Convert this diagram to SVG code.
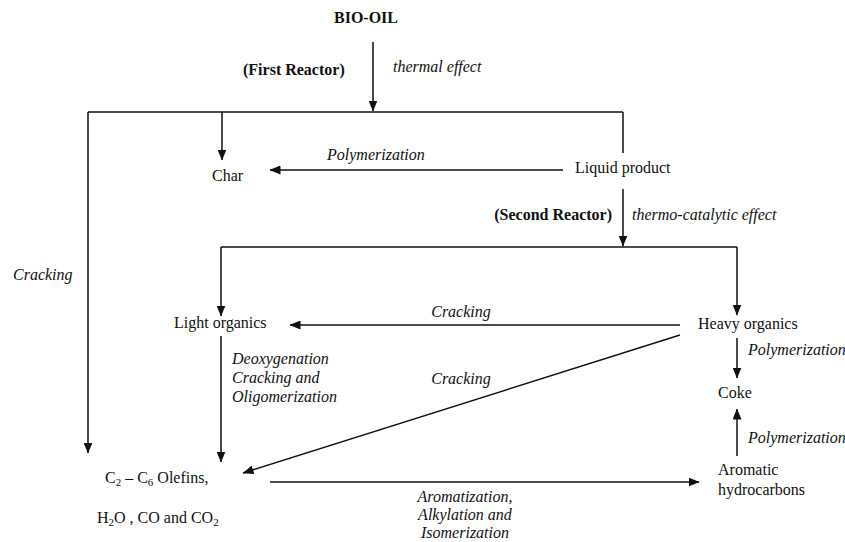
<svg xmlns="http://www.w3.org/2000/svg" width="845" height="542" viewBox="0 0 845 542">
<style>
text{font-family:"Liberation Serif","Times New Roman",serif;font-size:16px;fill:#111}
.b{font-weight:bold}
.i{font-style:italic}
.ln{stroke:#111;stroke-width:1.5;fill:none}
.a{marker-end:url(#ah)}
</style>
<defs>
<marker id="ah" markerWidth="11" markerHeight="9" refX="10.5" refY="4.5" orient="auto" markerUnits="userSpaceOnUse">
<path d="M0,0 L11,4.5 L0,9 Z" fill="#111"/>
</marker>
</defs>
<rect width="845" height="542" fill="#fff"/>
<g id="connectors">
<path class="ln a" d="M373,42 V111"/>
<path class="ln" d="M88,112 H623"/>
<path class="ln a" d="M88,112 V453"/>
<path class="ln a" d="M222,112 V160"/>
<path class="ln a" d="M563,170 H270"/>
<path class="ln" d="M623,112 V153"/>
<path class="ln a" d="M623,189 V246"/>
<path class="ln" d="M221,247 H737"/>
<path class="ln a" d="M221,247 V316"/>
<path class="ln a" d="M737,247 V315"/>
<path class="ln a" d="M680,325 H290"/>
<path class="ln a" d="M221,336 V462"/>
<path class="ln a" d="M680,335 L243,473"/>
<path class="ln a" d="M737,338 V378"/>
<path class="ln a" d="M737,456 V409"/>
<path class="ln a" d="M270,482 H699"/>
</g>
<g id="bio-oil"><text class="b" x="366" y="23" text-anchor="middle">BIO-OIL</text></g>
<g id="first-reactor-labels">
<text class="b" x="243" y="75">(First Reactor)</text>
<text class="i" x="393" y="72">thermal effect</text>
</g>
<g id="char"><text x="212" y="181">Char</text></g>
<g id="liquid-product"><text x="575" y="173">Liquid product</text></g>
<g id="second-reactor-labels">
<text class="b" x="612" y="220" text-anchor="end">(Second Reactor)</text>
<text class="i" x="632" y="220">thermo-catalytic effect</text>
</g>
<g id="light-organics"><text x="174" y="328">Light organics</text></g>
<g id="heavy-organics"><text x="698" y="329">Heavy organics</text></g>
<g id="coke"><text x="718" y="398">Coke</text></g>
<g id="aromatic"><text x="718" y="475">Aromatic</text><text x="718" y="495">hydrocarbons</text></g>
<g id="olefins">
<text x="105" y="483">C<tspan font-size="11" dy="3">2</tspan><tspan dy="-3"> – C</tspan><tspan font-size="11" dy="3">6</tspan><tspan dy="-3"> Olefins,</tspan></text>
<text x="97" y="523">H<tspan font-size="11" dy="3">2</tspan><tspan dy="-3">O , CO and CO</tspan><tspan font-size="11" dy="3">2</tspan></text>
</g>
<g id="edge-labels">
<text class="i" x="327" y="160">Polymerization</text>
<text class="i" x="13" y="280">Cracking</text>
<text class="i" x="461" y="317" text-anchor="middle">Cracking</text>
<text class="i" x="232" y="364">Deoxygenation</text>
<text class="i" x="232" y="383">Cracking and</text>
<text class="i" x="232" y="402">Oligomerization</text>
<text class="i" x="461" y="384" text-anchor="middle">Cracking</text>
<text class="i" x="748" y="355">Polymerization</text>
<text class="i" x="748" y="443">Polymerization</text>
<text class="i" x="465" y="502" text-anchor="middle">Aromatization,</text>
<text class="i" x="465" y="520" text-anchor="middle">Alkylation and</text>
<text class="i" x="465" y="538" text-anchor="middle">Isomerization</text>
</g>
</svg>
